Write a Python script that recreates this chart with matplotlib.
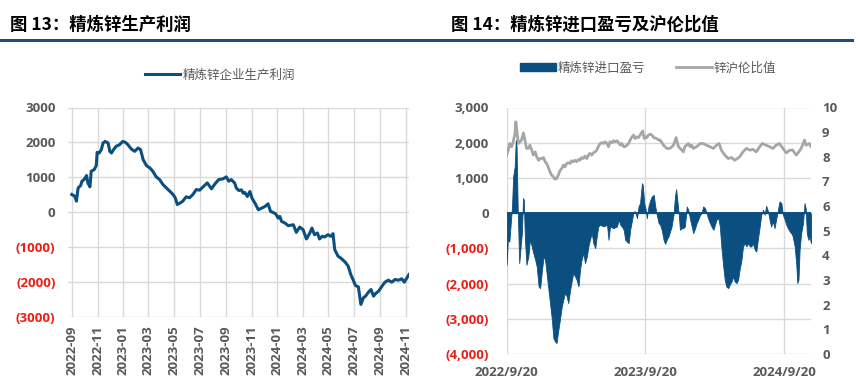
"""精炼锌生产利润 / 进口盈亏及沪伦比值 两联图。"""

import matplotlib
matplotlib.use("Agg")
import matplotlib.pyplot as plt
import matplotlib.dates as mdates
import pandas as pd
from matplotlib.lines import Line2D
from matplotlib.patches import Patch
from matplotlib.ticker import FixedLocator, FuncFormatter

CJK = ["Noto Sans CJK SC", "DejaVu Sans"]
NUM = ["Open Sans", "DejaVu Sans"]
BLUE = "#0B4F80"
GRAY_LINE = "#A6A6A6"
GRID = "#D9D9D9"
TXT = "#595959"
RED = "#E8201A"

# ---------------- 图13 数据：精炼锌企业生产利润 ----------------
profit_dates = [
    "2022-09-20", "2022-09-27", "2022-10-01", "2022-10-05", "2022-10-11", "2022-10-14",
    "2022-10-19", "2022-10-25", "2022-10-28", "2022-11-02", "2022-11-05", "2022-11-12",
    "2022-11-17", "2022-11-19", "2022-11-24", "2022-11-29", "2022-12-03", "2022-12-08",
    "2022-12-15", "2022-12-19", "2022-12-23", "2022-12-29", "2023-01-03", "2023-01-11",
    "2023-01-19", "2023-01-25", "2023-01-31", "2023-02-08", "2023-02-16", "2023-02-24",
    "2023-03-02", "2023-03-08", "2023-03-16", "2023-03-24", "2023-03-31", "2023-04-08",
    "2023-04-16", "2023-04-24", "2023-05-02", "2023-05-10", "2023-05-18", "2023-05-23",
    "2023-05-28", "2023-06-02", "2023-06-10", "2023-06-18", "2023-06-26", "2023-07-04",
    "2023-07-12", "2023-07-20", "2023-07-28", "2023-08-07", "2023-08-17", "2023-08-24",
    "2023-09-03", "2023-09-13", "2023-09-21", "2023-09-27", "2023-10-03", "2023-10-11",
    "2023-10-15", "2023-10-21", "2023-10-27", "2023-10-31", "2023-11-04", "2023-11-10",
    "2023-11-16", "2023-11-21", "2023-11-28", "2023-12-06", "2023-12-14", "2023-12-22",
    "2023-12-29", "2024-01-04", "2024-01-10", "2024-01-16", "2024-01-22", "2024-01-26",
    "2024-01-30", "2024-02-07", "2024-02-15", "2024-02-27", "2024-03-01", "2024-03-05",
    "2024-03-13", "2024-03-21", "2024-03-29", "2024-04-06", "2024-04-11", "2024-04-17",
    "2024-04-24", "2024-04-29", "2024-05-05", "2024-05-11", "2024-05-19", "2024-05-26",
    "2024-05-31", "2024-06-04", "2024-06-12", "2024-06-18", "2024-06-24", "2024-06-29",
    "2024-07-06", "2024-07-12", "2024-07-18", "2024-07-23", "2024-07-30", "2024-08-05",
    "2024-08-11", "2024-08-16", "2024-08-23", "2024-08-29", "2024-09-04", "2024-09-09",
    "2024-09-16", "2024-09-24", "2024-10-01", "2024-10-09", "2024-10-17", "2024-10-25",
    "2024-11-02", "2024-11-10", "2024-11-16", "2024-11-22", "2024-11-27",
]
profit_values = [
    505, 457, 314, 695, 762, 886,
    933, 1048, 838, 724, 1171, 1219,
    1333, 1714, 1695, 1790, 1981, 2028,
    1981, 1743, 1695, 1810, 1886, 1933,
    2028, 2000, 1933, 1810, 1743, 1838,
    1790, 1505, 1333, 1267, 1171, 1010,
    933, 790, 695, 600, 505, 410,
    219, 248, 314, 438, 410, 505,
    648, 629, 724, 838, 667, 790,
    933, 952, 1010, 886, 933, 830,
    686, 619, 638, 543, 562, 448,
    590, 400, 257, 67, 114, 162,
    238, 19, -10, -48, -171, -124,
    -267, -314, -390, -362, -457, -581,
    -429, -505, -771, -600, -457, -648,
    -600, -771, -695, -714, -648, -695,
    -619, -1076, -1267, -1314, -1381, -1438,
    -1552, -1790, -1952, -2105, -2143, -2648,
    -2457, -2410, -2295, -2219, -2410, -2333,
    -2267, -2124, -2010, -1952, -2010, -1933,
    -1952, -1914, -2010, -1886, -1790,
]
profit_ticks = ["2022-09-20", "2022-11-20", "2023-01-20", "2023-03-20", "2023-05-20",
                "2023-07-20", "2023-09-20", "2023-11-20", "2024-01-20", "2024-03-20",
                "2024-05-20", "2024-07-20", "2024-09-20", "2024-11-20"]

# ---------------- 图14 数据：进口盈亏（元/吨）与沪伦比值 ----------------
import_dates = [
    "2022-09-20", "2022-09-23", "2022-09-27", "2022-09-30", "2022-10-04", "2022-10-07",
    "2022-10-11", "2022-10-14", "2022-10-16", "2022-10-19", "2022-10-23", "2022-10-26",
    "2022-10-30", "2022-11-02", "2022-11-04", "2022-11-07", "2022-11-11", "2022-11-16",
    "2022-11-20", "2022-11-25", "2022-11-29", "2022-12-04", "2022-12-08", "2022-12-13",
    "2022-12-17", "2022-12-21", "2022-12-26", "2022-12-30", "2023-01-03", "2023-01-07",
    "2023-01-12", "2023-01-16", "2023-01-21", "2023-01-25", "2023-01-29", "2023-02-03",
    "2023-02-07", "2023-02-12", "2023-02-16", "2023-02-20", "2023-02-25", "2023-03-01",
    "2023-03-06", "2023-03-10", "2023-03-14", "2023-03-19", "2023-03-23", "2023-03-28",
    "2023-04-01", "2023-04-05", "2023-04-10", "2023-04-14", "2023-04-19", "2023-04-23",
    "2023-04-27", "2023-05-02", "2023-05-06", "2023-05-11", "2023-05-15", "2023-05-19",
    "2023-05-24", "2023-06-02", "2023-06-11", "2023-06-15", "2023-06-19", "2023-06-28",
    "2023-07-07", "2023-07-12", "2023-07-16", "2023-07-20", "2023-07-25", "2023-07-29",
    "2023-08-02", "2023-08-07", "2023-08-11", "2023-08-16", "2023-08-20", "2023-08-24",
    "2023-08-29", "2023-09-02", "2023-09-06", "2023-09-11", "2023-09-13", "2023-09-17",
    "2023-09-21", "2023-09-24", "2023-09-28", "2023-10-03", "2023-10-07", "2023-10-12",
    "2023-10-16", "2023-10-20", "2023-10-25", "2023-10-29", "2023-11-02", "2023-11-07",
    "2023-11-11", "2023-11-15", "2023-11-20", "2023-11-24", "2023-11-28", "2023-12-03",
    "2023-12-07", "2023-12-10", "2023-12-13", "2023-12-17", "2023-12-20", "2023-12-25",
    "2023-12-29", "2024-01-02", "2024-01-07", "2024-01-11", "2024-01-16", "2024-01-20",
    "2024-01-24", "2024-01-29", "2024-02-02", "2024-02-06", "2024-02-11", "2024-02-15",
    "2024-02-19", "2024-02-24", "2024-02-28", "2024-03-03", "2024-03-08", "2024-03-12",
    "2024-03-17", "2024-03-21", "2024-03-25", "2024-03-30", "2024-04-03", "2024-04-07",
    "2024-04-12", "2024-04-16", "2024-04-20", "2024-04-25", "2024-04-29", "2024-05-04",
    "2024-05-08", "2024-05-12", "2024-05-17", "2024-05-21", "2024-05-25", "2024-05-30",
    "2024-06-03", "2024-06-08", "2024-06-12", "2024-06-16", "2024-06-21", "2024-06-25",
    "2024-06-29", "2024-07-04", "2024-07-08", "2024-07-12", "2024-07-17", "2024-07-21",
    "2024-07-26", "2024-07-30", "2024-08-03", "2024-08-08", "2024-08-12", "2024-08-16",
    "2024-08-21", "2024-08-25", "2024-08-29", "2024-09-03", "2024-09-07", "2024-09-12",
    "2024-09-16", "2024-09-21", "2024-09-25", "2024-09-29", "2024-10-04", "2024-10-08",
    "2024-10-12", "2024-10-17", "2024-10-21", "2024-10-24", "2024-10-27", "2024-10-30",
    "2024-11-03", "2024-11-08", "2024-11-12", "2024-11-15", "2024-11-18", "2024-11-22",
    "2024-11-25", "2024-11-29",
]
import_values = [
    -1466, -757, -804, -378, 189, 1041,
    1325, 2081, 1892, 95, -1419, -1041,
    -568, 426, 378, -757, -1466, -1230,
    -757, -946, -1135, -1325, -1514, -2081,
    -2129, -1703, -1230, -1325, -1703, -2081,
    -2554, -2933, -3548, -3643, -3690, -3311,
    -3027, -2649, -2460, -2271, -2365, -2554,
    -2176, -1939, -1703, -1797, -1892, -2081,
    -1608, -1325, -1135, -1419, -1230, -946,
    -757, -568, -851, -993, -662, -378,
    -331, -378, -331, -757, -378, -426,
    -378, -189, -331, -378, -473, -757,
    -804, -851, -473, -189, 47, 47,
    -142, 189, 284, 851, 804, 284,
    95, -142, 189, 378, 473, 520,
    189, -47, -284, -331, -473, -757,
    -870, -757, -662, -520, -378, -47,
    473, 681, 378, -47, -473, -426,
    -426, -378, 189, 95, -189, -378,
    -568, -426, -284, -189, -47, 0,
    189, 142, 0, -142, -284, -378,
    -473, -331, -189, -142, -378, -946,
    -1514, -1892, -2081, -2129, -2034, -1939,
    -1797, -1939, -1986, -1892, -1608, -1325,
    -946, -851, -946, -851, -946, -946,
    -851, -1041, -1088, -757, -378, -47,
    95, -47, 208, 47, -189, -378,
    -237, -426, -189, 95, 331, 284,
    -47, -189, -331, -426, -520, -568,
    -662, -946, -1419, -1986, -1892, -1041,
    -568, -284, 284, 142, -568, -757,
    -662, -851,
]
ratio_dates = [
    "2022-09-20", "2022-09-24", "2022-09-28", "2022-10-03", "2022-10-07", "2022-10-12",
    "2022-10-14", "2022-10-18", "2022-10-21", "2022-10-25", "2022-10-29", "2022-11-03",
    "2022-11-07", "2022-11-11", "2022-11-16", "2022-11-20", "2022-11-25", "2022-11-29",
    "2022-12-04", "2022-12-08", "2022-12-13", "2022-12-17", "2022-12-21", "2022-12-26",
    "2022-12-30", "2023-01-03", "2023-01-07", "2023-01-12", "2023-01-16", "2023-01-21",
    "2023-01-25", "2023-01-29", "2023-02-03", "2023-02-07", "2023-02-12", "2023-02-16",
    "2023-02-20", "2023-02-25", "2023-03-01", "2023-03-06", "2023-03-10", "2023-03-14",
    "2023-03-19", "2023-03-23", "2023-03-28", "2023-04-01", "2023-04-05", "2023-04-10",
    "2023-04-14", "2023-04-19", "2023-04-23", "2023-04-27", "2023-05-02", "2023-05-06",
    "2023-05-11", "2023-05-15", "2023-05-19", "2023-05-24", "2023-05-28", "2023-06-02",
    "2023-06-06", "2023-06-11", "2023-06-15", "2023-06-19", "2023-06-24", "2023-06-28",
    "2023-07-03", "2023-07-07", "2023-07-12", "2023-07-16", "2023-07-20", "2023-07-25",
    "2023-07-29", "2023-08-02", "2023-08-07", "2023-08-11", "2023-08-16", "2023-08-20",
    "2023-08-24", "2023-08-29", "2023-09-02", "2023-09-06", "2023-09-11", "2023-09-13",
    "2023-09-17", "2023-09-21", "2023-09-24", "2023-09-28", "2023-10-03", "2023-10-07",
    "2023-10-12", "2023-10-20", "2023-10-25", "2023-10-29", "2023-11-07", "2023-11-15",
    "2023-11-24", "2023-12-03", "2023-12-10", "2023-12-16", "2023-12-25", "2023-12-29",
    "2024-01-02", "2024-01-11", "2024-01-16", "2024-01-20", "2024-01-24", "2024-02-02",
    "2024-02-11", "2024-02-19", "2024-02-28", "2024-03-08", "2024-03-17", "2024-03-25",
    "2024-04-01", "2024-04-07", "2024-04-16", "2024-04-25", "2024-05-04", "2024-05-12",
    "2024-05-19", "2024-05-25", "2024-06-03", "2024-06-12", "2024-06-21", "2024-06-29",
    "2024-07-08", "2024-07-17", "2024-07-24", "2024-08-03", "2024-08-12", "2024-08-21",
    "2024-08-29", "2024-09-07", "2024-09-16", "2024-09-25", "2024-10-04", "2024-10-12",
    "2024-10-21", "2024-10-28", "2024-11-03", "2024-11-12", "2024-11-16", "2024-11-25",
    "2024-11-29",
]
ratio_values = [
    8.07, 8.27, 8.54, 8.41, 8.61, 8.95,
    9.42, 8.88, 8.54, 8.61, 8.68, 8.97,
    8.68, 8.34, 8.34, 8.47, 8.27, 8.07,
    8.20, 8.00, 7.86, 7.93, 7.93, 7.97,
    7.80, 7.73, 7.59, 7.39, 7.26, 7.19,
    7.09, 7.12, 7.26, 7.43, 7.53, 7.66,
    7.59, 7.73, 7.76, 7.73, 7.84, 7.80,
    7.86, 7.80, 7.89, 7.86, 7.97, 7.93,
    8.03, 7.93, 8.07, 8.14, 8.07, 8.16,
    8.20, 8.27, 8.41, 8.54, 8.57, 8.54,
    8.61, 8.54, 8.41, 8.61, 8.57, 8.65,
    8.61, 8.65, 8.57, 8.47, 8.54, 8.41,
    8.41, 8.47, 8.54, 8.68, 8.81, 8.88,
    8.74, 8.81, 8.78, 8.88, 9.01, 9.05,
    8.74, 8.81, 8.78, 8.88, 8.92, 8.88,
    8.78, 8.74, 8.68, 8.68, 8.47, 8.34,
    8.34, 8.47, 8.78, 8.41, 8.27, 8.20,
    8.41, 8.54, 8.41, 8.47, 8.34, 8.41,
    8.54, 8.54, 8.47, 8.41, 8.34, 8.47,
    8.54, 8.27, 8.07, 7.93, 7.97, 7.86,
    7.93, 8.00, 8.20, 8.34, 8.27, 8.30,
    8.20, 8.41, 8.54, 8.47, 8.41, 8.34,
    8.47, 8.54, 8.34, 8.16, 8.27, 8.27,
    8.07, 8.20, 8.34, 8.68, 8.47, 8.54,
    8.41,
]
import_ticks = ["2022-09-20", "2023-09-20", "2024-09-20"]
import_tick_labels = ["2022/9/20", "2023/9/20", "2024/9/20"]


def paren_fmt(sep):
    def _fmt(v, pos):
        s = f"{abs(v):,.0f}" if sep else f"{abs(v):.0f}"
        return f"({s})" if v < 0 else s
    return FuncFormatter(_fmt)


def style_axis(ax):
    for sp in ax.spines.values():
        sp.set_visible(False)
    ax.grid(True, color=GRID, lw=1.0)
    ax.set_axisbelow(True)
    ax.tick_params(length=0)


def color_neg_labels(ax):
    for lab in ax.get_yticklabels():
        lab.set_color(RED if lab.get_text().startswith("(") else TXT)


fig = plt.figure(figsize=(8.59, 3.91), dpi=100)
W, H = 859, 391

# 标题与下划线
fig.text(10 / W, 1 - 25 / H, "图 13：精炼锌生产利润", family=CJK, fontsize=12.5,
         fontweight="bold", va="center", color="black")
fig.text(451 / W, 1 - 25 / H, "图 14：精炼锌进口盈亏及沪伦比值", family=CJK, fontsize=12.5,
         fontweight="bold", va="center", color="black")
fig.add_artist(Line2D([0, 852 / W], [1 - 39.5 / H] * 2, color="#1F4E79", lw=2.2))

# ---------------- 左图 ----------------
ax1 = fig.add_axes([68 / W, 1 - 316.7 / H, (409 - 68) / W, (316.7 - 107.5) / H])
style_axis(ax1)
ax1.plot(pd.to_datetime(profit_dates), profit_values, color=BLUE, lw=2.2)
ax1.set_ylim(-3000, 3000)
ax1.set_yticks(range(-3000, 3001, 1000))
ax1.yaxis.set_major_formatter(paren_fmt(False))
ax1.set_xlim(pd.Timestamp("2022-09-11"), pd.Timestamp("2024-11-27"))
ax1.xaxis.set_major_locator(FixedLocator(mdates.date2num(pd.to_datetime(profit_ticks))))
ax1.xaxis.set_major_formatter(mdates.DateFormatter("%Y-%m"))
ax1.tick_params(axis="y", pad=9)
ax1.tick_params(axis="x", pad=6, rotation=90)
for lab in ax1.get_xticklabels() + ax1.get_yticklabels():
    lab.set_family(NUM)
    lab.set_fontsize(9.5)
    lab.set_fontweight("bold")
    lab.set_color(TXT)
color_neg_labels(ax1)

fig.legend(handles=[Line2D([], [], color=BLUE, lw=2.2)], labels=["精炼锌企业生产利润"],
           loc="center", bbox_to_anchor=(220 / W, 1 - 75 / H), frameon=False,
           handlelength=2.8, handletextpad=0.2, prop={"family": CJK, "size": 9},
           labelcolor=TXT)

# ---------------- 右图 ----------------
ax2 = fig.add_axes([506.7 / W, 1 - 354 / H, (811 - 506.7) / W, (354 - 107.5) / H])
style_axis(ax2)
imp_x = pd.to_datetime(import_dates)
ax2.fill_between(imp_x, import_values, 0, facecolor=BLUE, edgecolor=BLUE, lw=0.6)
ax2.axhline(0, color=BLUE, lw=1.4)
ax2.set_ylim(-4000, 3000)
ax2.set_yticks(range(-4000, 3001, 1000))
ax2.yaxis.set_major_formatter(paren_fmt(True))
ax2.set_xlim(pd.Timestamp("2022-09-20"), pd.Timestamp("2024-11-29"))
ax2.xaxis.set_major_locator(FixedLocator(mdates.date2num(pd.to_datetime(import_ticks))))
ax2.set_xticklabels(import_tick_labels)
ax2.tick_params(axis="y", pad=13)
ax2.tick_params(axis="x", pad=9)

ax2r = ax2.twinx()
for sp in ax2r.spines.values():
    sp.set_visible(False)
ax2r.plot(pd.to_datetime(ratio_dates), ratio_values, color=GRAY_LINE, lw=2.0)
ax2r.set_ylim(0, 10)
ax2r.set_yticks(range(0, 11))
ax2r.tick_params(length=0, pad=8)

for lab in ax2.get_xticklabels() + ax2.get_yticklabels() + ax2r.get_yticklabels():
    lab.set_family(NUM)
    lab.set_fontsize(9.5)
    lab.set_fontweight("bold")
    lab.set_color(TXT)
color_neg_labels(ax2)

fig.legend(handles=[Patch(color=BLUE), Line2D([], [], color=GRAY_LINE, lw=2.0)],
           labels=["精炼锌进口盈亏", "锌沪伦比值"], ncol=2,
           loc="center", bbox_to_anchor=(648 / W, 1 - 68 / H), frameon=False,
           handlelength=2.9, handleheight=0.6, handletextpad=0.15, columnspacing=2.4,
           prop={"family": CJK, "size": 9}, labelcolor=TXT)

fig.savefig("out.png", dpi=100)
